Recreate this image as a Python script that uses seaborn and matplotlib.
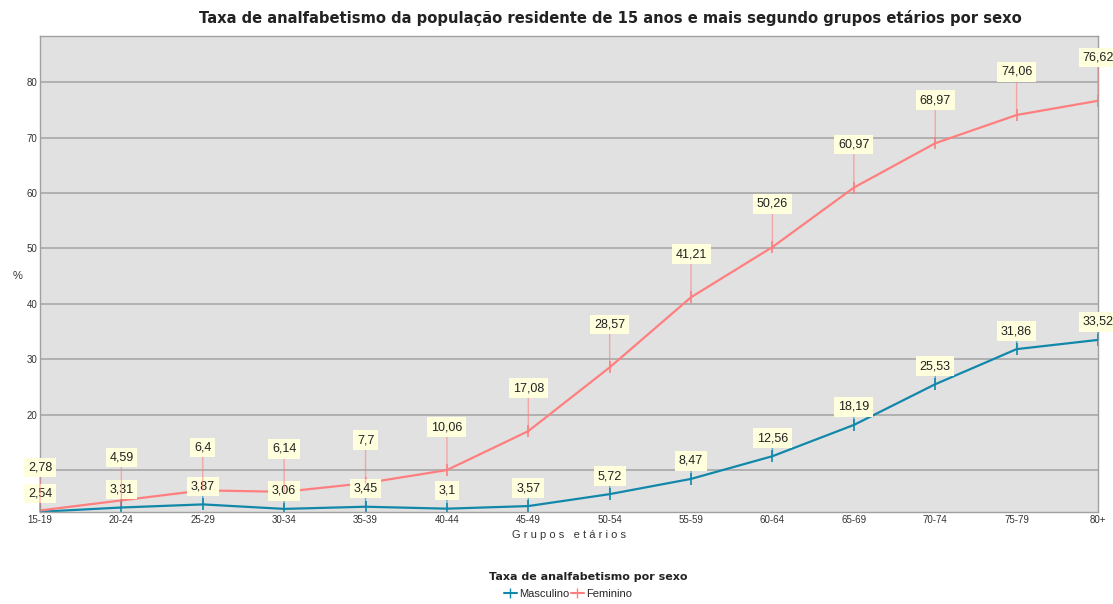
import seaborn as sns
import matplotlib.pyplot as plt
import pandas as pd

# Data
grupos = ["15-19", "20-24", "25-29", "30-34", "35-39", "40-44", "45-49",
          "50-54", "55-59", "60-64", "65-69", "70-74", "75-79", "80+"]
masculino = [2.54, 3.31, 3.87, 3.06, 3.45, 3.1, 3.57,
             5.72, 8.47, 12.56, 18.19, 25.53, 31.86, 33.52]
feminino = [2.78, 4.59, 6.4, 6.14, 7.7, 10.06, 17.08,
            28.57, 41.21, 50.26, 60.97, 68.97, 74.06, 76.62]

cor_masc = "#1188aa"
cor_fem = "#ff7f7f"

df = pd.DataFrame({
    "grupo": list(range(len(grupos))) * 2,
    "taxa": masculino + feminino,
    "sexo": ["Masculino"] * len(grupos) + ["Feminino"] * len(grupos),
})

sns.set_style("white")
plt.rcParams["font.family"] = ["Liberation Sans", "DejaVu Sans"]

fig = plt.figure(figsize=(11.13, 6.04), dpi=100)
ax = fig.add_axes([40 / 1113, 1 - 512 / 604, 1058 / 1113, 476 / 604])
ax.set_facecolor("#e1e1e1")

sns.lineplot(data=df, x="grupo", y="taxa", hue="sexo",
             palette={"Masculino": cor_masc, "Feminino": cor_fem},
             marker="|", markersize=8, markeredgewidth=1.2, linewidth=1.6,
             ax=ax, legend=False)
# seaborn paints marker edges white; use the line colour instead
for ln in ax.lines:
    ln.set_markeredgecolor(ln.get_color())

# value labels with leader lines
for serie, cor, desloc in [(masculino, cor_masc, 13), (feminino, cor_fem, 31)]:
    for i, v in enumerate(serie):
        ax.annotate(f"{v:g}".replace(".", ","), xy=(i, v),
                    xytext=(0, desloc), textcoords="offset points",
                    ha="center", va="center", fontsize=9, color="#222222",
                    bbox=dict(boxstyle="square,pad=0.3", fc="#ffffdd", ec="none"),
                    arrowprops=dict(arrowstyle="-", color=cor, alpha=0.6, lw=1,
                                    shrinkA=0, shrinkB=0),
                    annotation_clip=False, zorder=5)

ax.set_xlim(0, len(grupos) - 1)
ax.set_ylim(2.5, 88.3)
ax.set_xticks(range(len(grupos)))
ax.set_xticklabels(grupos, fontsize=7, color="#333333")
ax.set_yticks(range(10, 90, 10))
ax.set_yticklabels([""] + [str(t) for t in range(20, 90, 10)], fontsize=7, color="#333333")
ax.tick_params(length=0, pad=2)
ax.grid(axis="y", color="#a8a8a8", linewidth=1.2)
ax.set_axisbelow(True)
for s in ax.spines.values():
    s.set_color("#a0a0a0")
    s.set_linewidth(1)

ax.set_xlabel("G r u p o s   e t á r i o s", fontsize=8, color="#333333", labelpad=4)
ax.set_ylabel("%", fontsize=8, rotation=0, color="#333333", va="center", ha="center")
ax.yaxis.set_label_coords(-22 / 1058, (512 - 276) / 476)

fig.text(610 / 1113, 1 - 18 / 604,
         "Taxa de analfabetismo da população residente de 15 anos e mais segundo grupos etários por sexo",
         ha="center", va="center", fontsize=10.6, fontweight="bold",
         family=["DejaVu Sans"], color="#222222")

fig.text(588 / 1113, 1 - 577 / 604, "Taxa de analfabetismo por sexo",
         ha="center", va="center", fontsize=8, fontweight="bold",
         family=["DejaVu Sans"], color="#222222")
handles = [plt.Line2D([], [], color=cor_masc, marker="|", markersize=7, lw=1.5),
           plt.Line2D([], [], color=cor_fem, marker="|", markersize=7, lw=1.5)]
fig.legend(handles, ["Masculino", "Feminino"], loc="center",
           bbox_to_anchor=(568 / 1113, 1 - 594 / 604), ncol=2, frameon=False,
           fontsize=8, handlelength=1.2, handletextpad=0.2, columnspacing=0.1)

fig.savefig("out.png", dpi=100)
